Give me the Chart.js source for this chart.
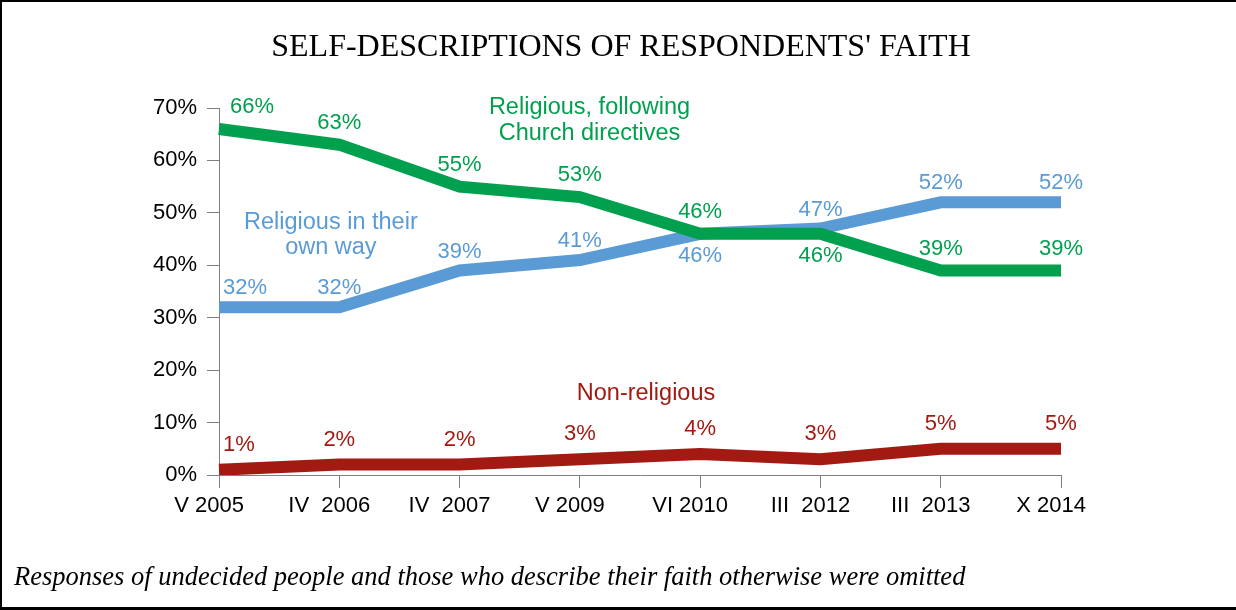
<!DOCTYPE html>
<html>
<head>
<meta charset="utf-8">
<script src="https://cdn.jsdelivr.net/npm/chart.js@4.4.1/dist/chart.umd.min.js"></script>
<style>
  html, body { margin: 0; padding: 0; background: #fff; }
  #wrap { position: relative; width: 1236px; height: 610px; overflow: hidden; }
  #c { position: absolute; left: 0; top: 0; }
  #frame { position: absolute; left: 0; top: 0; width: 1236px; height: 610px; box-sizing: border-box;
           border-top: 2px solid #000; border-left: 2px solid #000; border-bottom: 3px solid #000; pointer-events: none; }
</style>
</head>
<body>
<div id="wrap">
  <canvas id="c" width="1236" height="610"></canvas>
  <div id="frame"></div>
</div>
<script>
// ---- data ----
const categories = ['V 2005', 'IV  2006', 'IV  2007', 'V 2009', 'VI 2010', 'III  2012', 'III  2013', 'X 2014'];
const churchDirectives = [66, 63, 55, 53, 46, 46, 39, 39];
const ownWay = [32, 32, 39, 41, 46, 47, 52, 52];
const nonReligious = [1, 2, 2, 3, 4, 3, 5, 5];
const yTickValues = [0, 10, 20, 30, 40, 50, 60, 70];
const churchLabelSide = ['a', 'a', 'a', 'a', 'a', 'b', 'a', 'a'];
const ownWayLabelSide = ['a', 'a', 'a', 'a', 'b', 'a', 'a', 'a'];
const nonRelLabelSide = ['a', 'a', 'a', 'a', 'a', 'a', 'a', 'a'];
const titleText = "SELF-DESCRIPTIONS OF RESPONDENTS' FAITH";
const footnoteText = 'Responses of undecided people and those who describe their faith otherwise were omitted';

// ---- styles ----
const GREEN = '#00a04e';
const BLUE = '#5b9bd5';
const RED = '#a31a12';
const AXIS = '#7f7f7f';
const SANS = "'Liberation Sans', Arial, sans-serif";
const SERIF = "'Liberation Serif', 'Times New Roman', serif";
const PAD_L = 14, PAD_R = 8;

const sides = [churchLabelSide, ownWayLabelSide, nonRelLabelSide];
const aboveOffset = [-22, -19, -25];
const firstLabelShift = [11, 4, 4];
const belowOffset = 22;

const seriesNames = [
  { lines: ['Religious, following', 'Church directives'], color: GREEN, at: [3.08, 70.0], gap: 26 },
  { lines: ['Religious in their', 'own way'], color: BLUE, at: [0.93, 48.1], gap: 25 },
  { lines: ['Non-religious'], color: RED, at: [3.55, 15.6], gap: 25 }
];

const labelPlugin = {
  id: 'pointLabels',
  afterDatasetsDraw(chart) {
    const ctx = chart.ctx;
    ctx.save();
    ctx.font = '22px ' + SANS;
    ctx.textBaseline = 'middle';
    chart.data.datasets.forEach((ds, di) => {
      const meta = chart.getDatasetMeta(di);
      meta.data.forEach((pt, i) => {
        const side = sides[di][i];
        const dy = side === 'a' ? aboveOffset[di] : belowOffset;
        ctx.fillStyle = ds.borderColor;
        if (i === 0) { ctx.textAlign = 'left'; ctx.fillText(ds.data[i] + '%', pt.x + firstLabelShift[di], pt.y + dy); }
        else { ctx.textAlign = 'center'; ctx.fillText(ds.data[i] + '%', pt.x, pt.y + dy); }
      });
    });
    const xs = chart.scales.x, ys = chart.scales.y;
    ctx.textAlign = 'center';
    ctx.font = '23.5px ' + SANS;
    seriesNames.forEach(s => {
      const x = xs.getPixelForValue(s.at[0]);
      const y = ys.getPixelForValue(s.at[1]);
      ctx.fillStyle = s.color;
      s.lines.forEach((t, k) => ctx.fillText(t, x, y + k * s.gap));
    });
    ctx.restore();
  }
};

new Chart(document.getElementById('c'), {
  type: 'line',
  data: {
    labels: categories,
    datasets: [
      { label: 'Religious, following Church directives', data: churchDirectives, borderColor: GREEN, backgroundColor: GREEN },
      { label: 'Religious in their own way', data: ownWay, borderColor: BLUE, backgroundColor: BLUE },
      { label: 'Non-religious', data: nonReligious, borderColor: RED, backgroundColor: RED }
    ]
  },
  options: {
    responsive: false,
    devicePixelRatio: 1,
    animation: false,
    layout: { padding: { left: PAD_L, right: PAD_R, top: 0, bottom: 0 } },
    elements: {
      line: { borderWidth: 12, tension: 0, borderJoinStyle: 'miter', borderCapStyle: 'butt', fill: false },
      point: { radius: 0, hoverRadius: 0 }
    },
    plugins: {
      legend: { display: false },
      tooltip: { enabled: false },
      title: {
        display: true, text: titleText, color: '#000',
        font: { family: SERIF, size: 32, weight: 'normal' },
        padding: { top: 28, bottom: 41.6 }
      },
      subtitle: {
        display: true, text: footnoteText, color: '#000', position: 'bottom', align: 'start',
        font: { family: SERIF, size: 26.5, style: 'italic', weight: 'normal' },
        padding: { top: 0, bottom: 16.1 }
      }
    },
    scales: {
      x: {
        type: 'category', offset: false,
        grid: { display: true, drawOnChartArea: false, drawTicks: true, tickLength: 13, color: AXIS, lineWidth: 1 },
        border: { display: true, color: AXIS, width: 1 },
        ticks: { color: '#000', font: { family: SANS, size: 22 }, padding: 5, labelOffset: -10, maxRotation: 0, autoSkip: false },
        afterFit(scale) { scale.height = 87.1; }
      },
      y: {
        min: 0, max: 70,
        afterBuildTicks(scale) { scale.ticks = yTickValues.map(v => ({ value: v })); },
        grid: { display: true, drawOnChartArea: false, drawTicks: true, tickLength: 12, color: AXIS, lineWidth: 1 },
        border: { display: true, color: AXIS, width: 1 },
        ticks: { color: '#000', font: { family: SANS, size: 22 }, padding: 10, callback: v => v + '%' },
        afterFit(scale) { scale.width = 219 - PAD_L; }
      },
      y2: {
        position: 'right', display: true,
        grid: { display: false }, border: { display: false }, ticks: { display: false },
        afterFit(scale) { scale.width = 1236 - PAD_R - 1061; }
      }
    }
  },
  plugins: [labelPlugin]
});
</script>
</body>
</html>
